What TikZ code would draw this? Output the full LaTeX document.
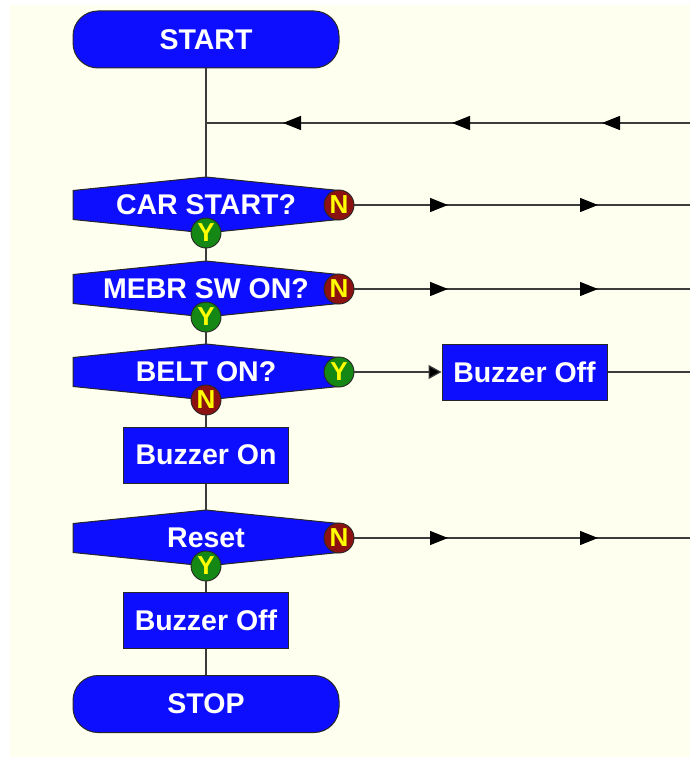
\documentclass[tikz,border=0pt]{standalone}
\usepackage{fontspec}
\setmainfont{Liberation Sans}
\usetikzlibrary{arrows.meta,decorations.markings}
\definecolor{cream}{RGB}{255,255,240}
\definecolor{fcblue}{RGB}{14,14,255}
\definecolor{nred}{RGB}{140,18,18}
\definecolor{ygreen}{RGB}{20,135,20}
\definecolor{tipyellow}{RGB}{255,255,0}
\definecolor{linegray}{RGB}{60,60,60}
\tikzset{
  >={Triangle[length=18pt,width=14pt]},
  shapeline/.style={draw=black!85, line width=1pt},
  term/.style={shapeline, fill=fcblue, rounded corners=25pt, minimum width=266pt, minimum height=57pt, inner sep=0pt},
  procbox/.style={shapeline, fill=fcblue, minimum width=165pt, minimum height=56pt, inner sep=0pt},
  decshape/.style={shapeline, fill=fcblue},
  txt/.style={text=white, font=\fontsize{28.5}{28.5}\selectfont\bfseries},
  dtxt/.style={txt, inner sep=0pt},
  nbtn/.style={circle, draw=black!85, line width=0.9pt, fill=nred, minimum size=30pt, inner sep=0pt, text=tipyellow, font=\fontsize{26}{26}\selectfont\bfseries},
  ybtn/.style={nbtn, fill=ygreen},
  conn/.style={draw=linegray, line width=1.2pt},
  fwdmarks/.style={postaction={decorate}, decoration={markings,
      mark=at position -242pt with {\arrow[black]{>}},
      mark=at position -92pt with {\arrow[black]{>}}}},
  backmarks/.style={postaction={decorate}, decoration={markings,
      mark=at position 88pt with {\arrow[black]{>}},
      mark=at position 238pt with {\arrow[black]{>}},
      mark=at position 407pt with {\arrow[black]{>}}}},
}
\newcommand{\decpath}[1]{\draw[decshape, shift={(#1)}] (-133,-14.5) -- (0,-28) -- (133,-14.5) -- (133,14.5) -- (0,28) -- (-133,14.5) -- cycle;}
\begin{document}
\begin{tikzpicture}[x=1pt,y=-1pt]
\useasboundingbox (0,0) rectangle (690,757);
\fill[white] (0,0) rectangle (690,757);
\fill[cream] (10,5) rectangle (690,757);

% terminals and boxes
\node[term, txt] (start) at (206,39.5) {START};
\node[term, txt] (stop) at (206,704) {STOP};
\node[procbox, txt] (bon) at (206,455) {Buzzer On};
\node[procbox, txt] (boff) at (206,620.5) {Buzzer Off};
\node[procbox, txt] (boff2) at (524.5,372) {Buzzer Off};

% decisions
\coordinate (c1) at (206,205);
\coordinate (c2) at (206,289);
\coordinate (c3) at (206,372);
\coordinate (c4) at (206,538);
\decpath{c1}
\decpath{c2}
\decpath{c3}
\decpath{c4}
\node[dtxt] (d1) at (c1) {CAR START?};
\node[dtxt] (d2) at (c2) {MEBR SW ON?};
\node[dtxt] (d3) at (c3) {BELT ON?};
\node[dtxt] (d4) at (c4) {Reset};

\coordinate (t1) at (206,177);
\coordinate (t2) at (206,261);
\coordinate (t3) at (206,344);
\coordinate (t4) at (206,510);

\node[nbtn] (n1) at (339,205) {N};
\node[ybtn] (y1) at (206,233) {Y};
\node[nbtn] (n2) at (339,289) {N};
\node[ybtn] (y2) at (206,317) {Y};
\node[ybtn] (y3) at (339,372) {Y};
\node[nbtn] (n3) at (206,400) {N};
\node[nbtn] (n4) at (339,538) {N};
\node[ybtn] (y4) at (206,566) {Y};

% right-hand ends
\coordinate (lj) at (206,123);
\coordinate (lr) at (690,123);
\coordinate (r1) at (690,205);
\coordinate (r2) at (690,289);
\coordinate (r3) at (690,372);
\coordinate (r4) at (690,538);

% connectors
\draw[conn] (start) -- (t1);
\draw[conn, backmarks] (lr) -- (lj);
\draw[conn] (y1) -- (t2);
\draw[conn] (y2) -- (t3);
\draw[conn] (n3) -- (bon);
\draw[conn] (bon) -- (t4);
\draw[conn] (y4) -- (boff);
\draw[conn] (boff) -- (stop);
\draw[conn, fwdmarks] (n1) -- (r1);
\draw[conn, fwdmarks] (n2) -- (r2);
\draw[conn, fwdmarks] (n4) -- (r4);
\draw[conn, -{Triangle[length=13pt,width=14pt,fill=black]}] (y3) -- (boff2);
\draw[conn] (boff2) -- (r3);
\end{tikzpicture}
\end{document}
